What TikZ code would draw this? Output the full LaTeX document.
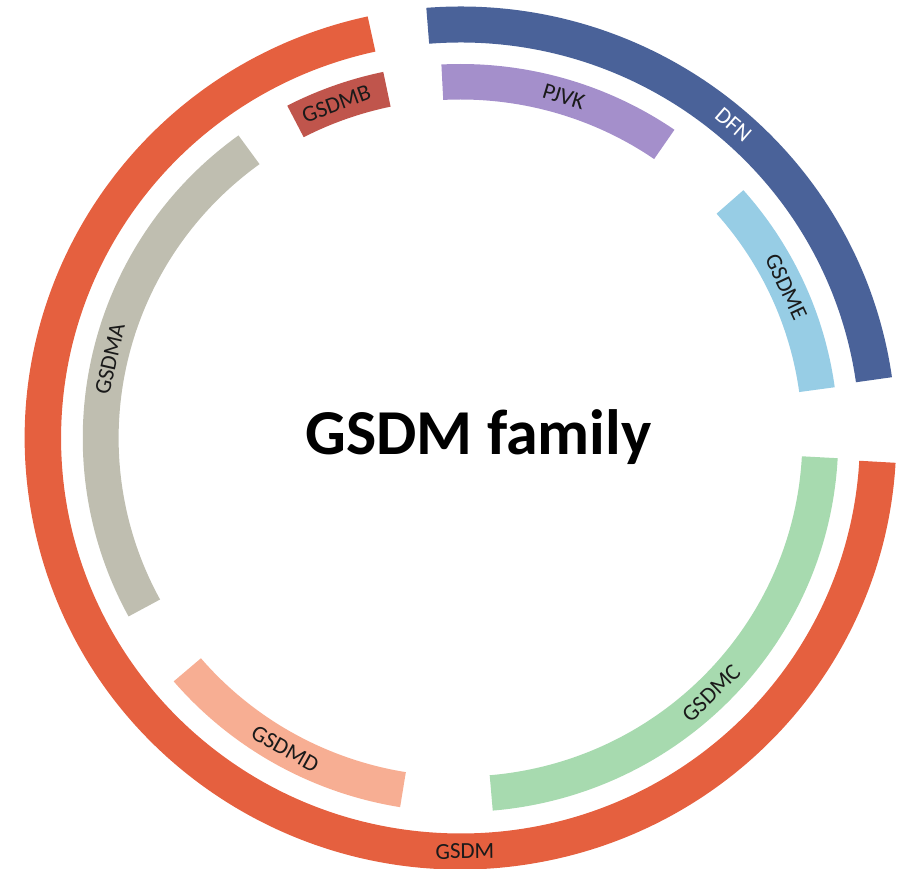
\documentclass[tikz,border=0pt]{standalone}
\usepackage{fontspec}
\setmainfont{Carlito}
\definecolor{cGSDM}{HTML}{E5603F}
\definecolor{cDFN}{HTML}{4A6299}
\definecolor{cPJVK}{HTML}{A48FCB}
\definecolor{cGSDMB}{HTML}{C0554C}
\definecolor{cGSDMA}{HTML}{BFBEB0}
\definecolor{cGSDMD}{HTML}{F7AE93}
\definecolor{cGSDMC}{HTML}{A7DAAF}
\definecolor{cGSDME}{HTML}{97CDE5}
\definecolor{cText}{HTML}{1A1A1A}
\newcommand\annseg[5]{%
  \fill[#1] (#2:#5) arc[start angle=#2, end angle=#3, radius=#5]
    -- (#3:#4) arc[start angle=#3, end angle=#2, radius=#4] -- cycle;}
\tikzset{
  seglabel/.style={font=\fontsize{23}{26}\selectfont, text=cText, inner sep=0pt, anchor=center},
  titlelabel/.style={font=\bfseries\fontsize{64}{70}\selectfont, text=black, inner sep=0pt, anchor=base}
}
\begin{document}
\begin{tikzpicture}[x=1pt,y=1pt]
\useasboundingbox (0,0) rectangle (906,869);
\begin{scope}[shift={(460.5,431)}, xscale=1.01]
  % outer ring
  \annseg{cDFN}{8.1}{94.5}{395.5}{431.5}
  \annseg{cGSDM}{102.3}{356.7}{395.5}{431.5}
  % inner ring
  \annseg{cGSDME}{7.8}{41.5}{338.5}{374}
  \annseg{cPJVK}{55.5}{92.9}{338.5}{374}
  \annseg{cGSDMB}{101.8}{117.3}{338.5}{374}
  \annseg{cGSDMA}{126}{208.5}{338.5}{374}
  \annseg{cGSDMD}{220.6}{260.8}{338.5}{374}
  \annseg{cGSDMC}{274.9}{356.9}{338.5}{374}
  % labels
  \node[seglabel, text=white, rotate=-40.8] (lDFN) at (49.2:413.5) {DFN};
  \node[seglabel, rotate=0.6] (lGSDM) at (270.6:413.5) {GSDM};
  \node[seglabel, rotate=-16.7] (lPJVK) at (73.3:356) {PJVK};
  \node[seglabel, rotate=20.2] (lGSDMB) at (110.2:356) {GSDMB};
  \node[seglabel, rotate=77.2] (lGSDMA) at (167.2:356) {GSDMA};
  \node[seglabel, rotate=-29.2] (lGSDMD) at (240.8:356) {GSDMD};
  \node[seglabel, rotate=44.2] (lGSDMC) at (314.2:356) {GSDMC};
  \node[seglabel, rotate=-64.9] (lGSDME) at (25.1:356) {GSDME};
\end{scope}
\node[titlelabel] (title) at (478.5,414) {GSDM family};
\end{tikzpicture}
\end{document}
